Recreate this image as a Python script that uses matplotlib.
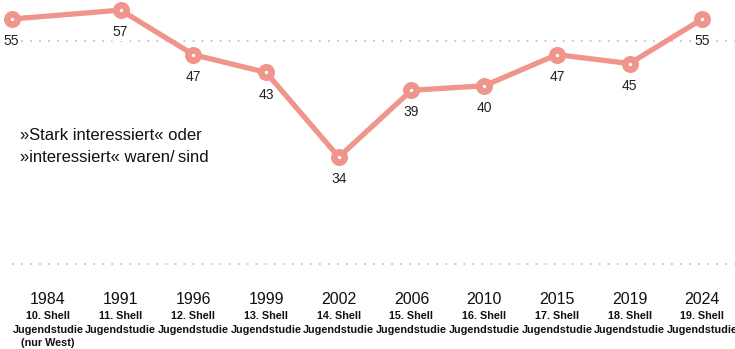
import matplotlib.pyplot as plt

plt.rcParams['font.family'] = ['Liberation Sans', 'DejaVu Sans']

years = ['1984', '1991', '1996', '1999', '2002', '2006', '2010', '2015', '2019', '2024']
studies = ['10. Shell', '11. Shell', '12. Shell', '13. Shell', '14. Shell',
           '15. Shell', '16. Shell', '17. Shell', '18. Shell', '19. Shell']
notes = ['(nur West)', '', '', '', '', '', '', '', '', '']
# Werte wie im Bild platziert (2002 liegt tiefer als die Beschriftung 34)
plotted = [55, 57, 47, 43, 24, 39, 40, 47, 45, 55]
labels = ['55', '57', '47', '43', '34', '39', '40', '47', '45', '55']
point_pos = [-0.5, 1, 2, 3, 4, 5, 6, 7, 8, 9]

color = '#F0958B'
H = 349

fig = plt.figure(figsize=(7.35, 3.49), dpi=100)
ax = fig.add_axes([0, 0, 1, 1])
ax.set_xlim(-0.66, 9.45)
ax.set_ylim(-19.1, 59.27)
ax.axis('off')

# gepunktete Hilfslinien bei 0 und 50
for g in [0, 50]:
    ax.plot([-0.5, 9.45], [g, g], color='#c4c4c4', lw=1.3, ls=(0, (1, 4)), zorder=1)

ax.plot(point_pos, plotted, color=color, lw=3.8, solid_joinstyle='miter', zorder=2)
ax.scatter(point_pos, plotted, s=150, color=color, zorder=3, linewidths=0)
ax.scatter(point_pos, plotted, s=6, color='white', zorder=4, linewidths=0)

for x, v, lab in zip(point_pos, plotted, labels):
    ax.annotate(lab, (x, v), xytext=(0, -16), textcoords='offset points',
                ha='center', va='center', fontsize=10, color='#222222', zorder=5,
                bbox=dict(boxstyle='square,pad=0.1', fc='white', ec='none'))

tr = ax.get_xaxis_transform()
for i, (yr, st, nt) in enumerate(zip(years, studies, notes)):
    ax.text(i, 1 - 300 / H, yr, transform=tr, ha='center', va='center',
            fontsize=11.5, color='#111111')
    ax.text(i, 1 - 316 / H, st, transform=tr, ha='center', va='center',
            fontsize=7.8, fontweight='bold', color='#111111')
    ax.text(i, 1 - 330 / H, 'Jugendstudie', transform=tr, ha='center', va='center',
            fontsize=7.8, fontweight='bold', color='#111111')
    if nt:
        ax.text(i, 1 - 343 / H, nt, transform=tr, ha='center', va='center',
                fontsize=7.8, fontweight='bold', color='#111111')

ax.text(20 / 735, 1 - 135 / H, '»Stark interessiert« oder', transform=ax.transAxes,
        ha='left', va='center', fontsize=12, color='#111111')
ax.text(20 / 735, 1 - 158 / H, '»interessiert« waren/\u2009sind', transform=ax.transAxes,
        ha='left', va='center', fontsize=12, color='#111111')

fig.savefig('out.png', dpi=100)
